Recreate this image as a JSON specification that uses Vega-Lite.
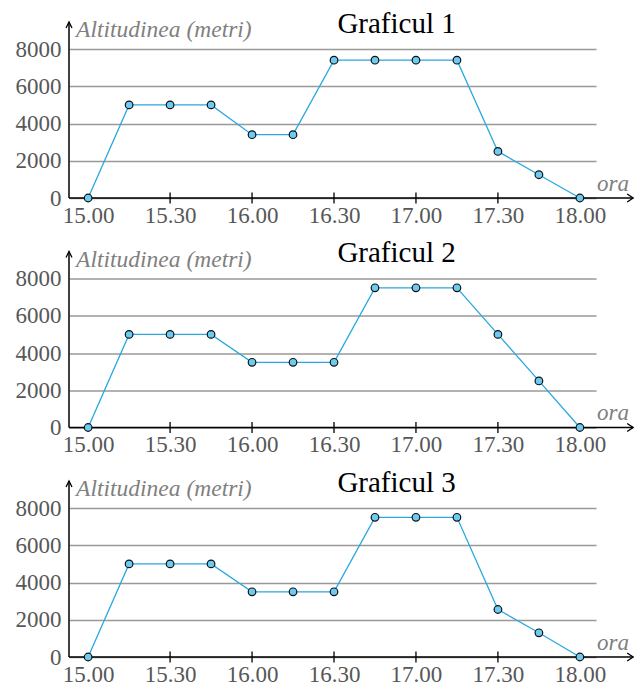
{
  "$schema": "https://vega.github.io/schema/vega-lite/v6.json",
  "background": "white",
  "padding": {"left": 15, "top": 9, "right": 0, "bottom": 0},
  "config": {"view": {"stroke": null}, "font": "Liberation Serif"},
  "data": {"values": [
    {"g": "Graficul 1", "min": 0, "alt": 0},
    {"g": "Graficul 1", "min": 15, "alt": 5000},
    {"g": "Graficul 1", "min": 30, "alt": 5000},
    {"g": "Graficul 1", "min": 45, "alt": 5000},
    {"g": "Graficul 1", "min": 60, "alt": 3400},
    {"g": "Graficul 1", "min": 75, "alt": 3400},
    {"g": "Graficul 1", "min": 90, "alt": 7400},
    {"g": "Graficul 1", "min": 105, "alt": 7400},
    {"g": "Graficul 1", "min": 120, "alt": 7400},
    {"g": "Graficul 1", "min": 135, "alt": 7400},
    {"g": "Graficul 1", "min": 150, "alt": 2500},
    {"g": "Graficul 1", "min": 165, "alt": 1250},
    {"g": "Graficul 1", "min": 180, "alt": 0},
    {"g": "Graficul 2", "min": 0, "alt": 0},
    {"g": "Graficul 2", "min": 15, "alt": 5000},
    {"g": "Graficul 2", "min": 30, "alt": 5000},
    {"g": "Graficul 2", "min": 45, "alt": 5000},
    {"g": "Graficul 2", "min": 60, "alt": 3500},
    {"g": "Graficul 2", "min": 75, "alt": 3500},
    {"g": "Graficul 2", "min": 90, "alt": 3500},
    {"g": "Graficul 2", "min": 105, "alt": 7500},
    {"g": "Graficul 2", "min": 120, "alt": 7500},
    {"g": "Graficul 2", "min": 135, "alt": 7500},
    {"g": "Graficul 2", "min": 150, "alt": 5000},
    {"g": "Graficul 2", "min": 165, "alt": 2500},
    {"g": "Graficul 2", "min": 180, "alt": 0},
    {"g": "Graficul 3", "min": 0, "alt": 0},
    {"g": "Graficul 3", "min": 15, "alt": 5000},
    {"g": "Graficul 3", "min": 30, "alt": 5000},
    {"g": "Graficul 3", "min": 45, "alt": 5000},
    {"g": "Graficul 3", "min": 60, "alt": 3500},
    {"g": "Graficul 3", "min": 75, "alt": 3500},
    {"g": "Graficul 3", "min": 90, "alt": 3500},
    {"g": "Graficul 3", "min": 105, "alt": 7500},
    {"g": "Graficul 3", "min": 120, "alt": 7500},
    {"g": "Graficul 3", "min": 135, "alt": 7500},
    {"g": "Graficul 3", "min": 150, "alt": 2550},
    {"g": "Graficul 3", "min": 165, "alt": 1300},
    {"g": "Graficul 3", "min": 180, "alt": 0}
  ]},
  "vconcat": [
    {
      "width": 527, "height": 149,
      "transform": [{"filter": "datum.g == 'Graficul 1'"}],
      "layer": [
        {"mark": {"type": "line", "color": "#29a8e0", "strokeWidth": 1.3},
         "encoding": {
           "x": {"field": "min", "type": "quantitative", "scale": {"domain": [-7, 185.9], "nice": false, "zero": false},
                 "axis": {"values": [0, 30, 60, 90, 120, 150, 180], "tickCount": 20, "labelExpr": "floor(15 + datum.value / 60) + '.' + (datum.value % 60 == 0 ? '00' : '30')", "domain": false, "ticks": false, "tickSize": 0, "grid": false, "labelFont": "Liberation Serif", "labelFontSize": 23, "labelColor": "#575757", "labelPadding": 6, "title": null, "labelFlush": false, "labelOverlap": false}},
           "y": {"field": "alt", "type": "quantitative", "scale": {"domain": [0, 8000], "nice": false},
                 "axis": {"values": [0, 2000, 4000, 6000, 8000], "tickCount": 10, "format": "d", "domain": false, "ticks": false, "tickSize": 0, "grid": true, "gridColor": "#999999", "gridWidth": 1.5, "labelFont": "Liberation Serif", "labelFontSize": 23, "labelColor": "#575757", "labelPadding": 8, "title": null, "labelOverlap": false}}
         }},
        {"mark": {"type": "rule", "color": "black", "strokeWidth": 1.3},
         "transform": [{"filter": "datum.min % 30 == 0 && datum.min > 0 && datum.min < 180"}],
         "encoding": {"x": {"field": "min", "type": "quantitative"}, "y": {"datum": -300}, "y2": {"datum": 300}}},
        {"mark": {"type": "rule", "color": "black", "strokeWidth": 1.5},
         "transform": [{"filter": "datum.min == 0"}],
         "encoding": {"x": {"datum": -7}, "x2": {"datum": 199.5}, "y": {"datum": 0}}},
        {"mark": {"type": "rule", "color": "black", "strokeWidth": 1.5},
         "transform": [{"filter": "datum.min == 0"}],
         "encoding": {"x": {"datum": -7}, "y": {"datum": 0}, "y2": {"datum": 9450}}},
        {"mark": {"type": "point", "shape": "M-1.5,-1L0,0L-1.5,1", "filled": false, "stroke": "black", "strokeWidth": 1.3, "size": 64, "opacity": 1},
         "transform": [{"filter": "datum.min == 0"}],
         "encoding": {"x": {"datum": 199.5}, "y": {"datum": 0}}},
        {"mark": {"type": "point", "shape": "M-1,2L0,0L1,2", "filled": false, "stroke": "black", "strokeWidth": 1.3, "size": 36, "opacity": 1},
         "transform": [{"filter": "datum.min == 0"}],
         "encoding": {"x": {"datum": -7}, "y": {"datum": 9450}}},
        {"mark": {"type": "point", "filled": true, "fill": "#6ccbf0", "stroke": "#111111", "strokeWidth": 1.2, "size": 58, "opacity": 1},
         "encoding": {"x": {"field": "min", "type": "quantitative"}, "y": {"field": "alt", "type": "quantitative"}}},
        {"mark": {"type": "text", "align": "left", "baseline": "alphabetic", "font": "Liberation Serif", "fontStyle": "italic", "fontSize": 23.5, "color": "#808080"},
         "transform": [{"filter": "datum.min == 0"}],
         "encoding": {"x": {"datum": -4.4}, "y": {"datum": 8620}, "text": {"value": "Altitudinea (metri)"}}},
        {"mark": {"type": "text", "align": "right", "baseline": "alphabetic", "font": "Liberation Serif", "fontStyle": "italic", "fontSize": 23, "color": "#808080"},
         "transform": [{"filter": "datum.min == 0"}],
         "encoding": {"x": {"datum": 198}, "y": {"datum": 390}, "text": {"value": "ora"}}},
        {"mark": {"type": "text", "align": "center", "baseline": "alphabetic", "font": "Liberation Serif", "fontSize": 29, "color": "black"},
         "transform": [{"filter": "datum.min == 0"}],
         "encoding": {"x": {"datum": 112.9}, "y": {"datum": 8860}, "text": {"field": "g"}}}
      ]
    },
    {
      "width": 527, "height": 149,
      "transform": [{"filter": "datum.g == 'Graficul 2'"}],
      "layer": [
        {"mark": {"type": "line", "color": "#29a8e0", "strokeWidth": 1.3},
         "encoding": {
           "x": {"field": "min", "type": "quantitative", "scale": {"domain": [-7, 185.9], "nice": false, "zero": false},
                 "axis": {"values": [0, 30, 60, 90, 120, 150, 180], "tickCount": 20, "labelExpr": "floor(15 + datum.value / 60) + '.' + (datum.value % 60 == 0 ? '00' : '30')", "domain": false, "ticks": false, "tickSize": 0, "grid": false, "labelFont": "Liberation Serif", "labelFontSize": 23, "labelColor": "#575757", "labelPadding": 6, "title": null, "labelFlush": false, "labelOverlap": false}},
           "y": {"field": "alt", "type": "quantitative", "scale": {"domain": [0, 8000], "nice": false},
                 "axis": {"values": [0, 2000, 4000, 6000, 8000], "tickCount": 10, "format": "d", "domain": false, "ticks": false, "tickSize": 0, "grid": true, "gridColor": "#999999", "gridWidth": 1.5, "labelFont": "Liberation Serif", "labelFontSize": 23, "labelColor": "#575757", "labelPadding": 8, "title": null, "labelOverlap": false}}
         }},
        {"mark": {"type": "rule", "color": "black", "strokeWidth": 1.3},
         "transform": [{"filter": "datum.min % 30 == 0 && datum.min > 0 && datum.min < 180"}],
         "encoding": {"x": {"field": "min", "type": "quantitative"}, "y": {"datum": -300}, "y2": {"datum": 300}}},
        {"mark": {"type": "rule", "color": "black", "strokeWidth": 1.5},
         "transform": [{"filter": "datum.min == 0"}],
         "encoding": {"x": {"datum": -7}, "x2": {"datum": 199.5}, "y": {"datum": 0}}},
        {"mark": {"type": "rule", "color": "black", "strokeWidth": 1.5},
         "transform": [{"filter": "datum.min == 0"}],
         "encoding": {"x": {"datum": -7}, "y": {"datum": 0}, "y2": {"datum": 9450}}},
        {"mark": {"type": "point", "shape": "M-1.5,-1L0,0L-1.5,1", "filled": false, "stroke": "black", "strokeWidth": 1.3, "size": 64, "opacity": 1},
         "transform": [{"filter": "datum.min == 0"}],
         "encoding": {"x": {"datum": 199.5}, "y": {"datum": 0}}},
        {"mark": {"type": "point", "shape": "M-1,2L0,0L1,2", "filled": false, "stroke": "black", "strokeWidth": 1.3, "size": 36, "opacity": 1},
         "transform": [{"filter": "datum.min == 0"}],
         "encoding": {"x": {"datum": -7}, "y": {"datum": 9450}}},
        {"mark": {"type": "point", "filled": true, "fill": "#6ccbf0", "stroke": "#111111", "strokeWidth": 1.2, "size": 58, "opacity": 1},
         "encoding": {"x": {"field": "min", "type": "quantitative"}, "y": {"field": "alt", "type": "quantitative"}}},
        {"mark": {"type": "text", "align": "left", "baseline": "alphabetic", "font": "Liberation Serif", "fontStyle": "italic", "fontSize": 23.5, "color": "#808080"},
         "transform": [{"filter": "datum.min == 0"}],
         "encoding": {"x": {"datum": -4.4}, "y": {"datum": 8620}, "text": {"value": "Altitudinea (metri)"}}},
        {"mark": {"type": "text", "align": "right", "baseline": "alphabetic", "font": "Liberation Serif", "fontStyle": "italic", "fontSize": 23, "color": "#808080"},
         "transform": [{"filter": "datum.min == 0"}],
         "encoding": {"x": {"datum": 198}, "y": {"datum": 390}, "text": {"value": "ora"}}},
        {"mark": {"type": "text", "align": "center", "baseline": "alphabetic", "font": "Liberation Serif", "fontSize": 29, "color": "black"},
         "transform": [{"filter": "datum.min == 0"}],
         "encoding": {"x": {"datum": 112.9}, "y": {"datum": 8860}, "text": {"field": "g"}}}
      ]
    },
    {
      "width": 527, "height": 149,
      "transform": [{"filter": "datum.g == 'Graficul 3'"}],
      "layer": [
        {"mark": {"type": "line", "color": "#29a8e0", "strokeWidth": 1.3},
         "encoding": {
           "x": {"field": "min", "type": "quantitative", "scale": {"domain": [-7, 185.9], "nice": false, "zero": false},
                 "axis": {"values": [0, 30, 60, 90, 120, 150, 180], "tickCount": 20, "labelExpr": "floor(15 + datum.value / 60) + '.' + (datum.value % 60 == 0 ? '00' : '30')", "domain": false, "ticks": false, "tickSize": 0, "grid": false, "labelFont": "Liberation Serif", "labelFontSize": 23, "labelColor": "#575757", "labelPadding": 6, "title": null, "labelFlush": false, "labelOverlap": false}},
           "y": {"field": "alt", "type": "quantitative", "scale": {"domain": [0, 8000], "nice": false},
                 "axis": {"values": [0, 2000, 4000, 6000, 8000], "tickCount": 10, "format": "d", "domain": false, "ticks": false, "tickSize": 0, "grid": true, "gridColor": "#999999", "gridWidth": 1.5, "labelFont": "Liberation Serif", "labelFontSize": 23, "labelColor": "#575757", "labelPadding": 8, "title": null, "labelOverlap": false}}
         }},
        {"mark": {"type": "rule", "color": "black", "strokeWidth": 1.3},
         "transform": [{"filter": "datum.min % 30 == 0 && datum.min > 0 && datum.min < 180"}],
         "encoding": {"x": {"field": "min", "type": "quantitative"}, "y": {"datum": -300}, "y2": {"datum": 300}}},
        {"mark": {"type": "rule", "color": "black", "strokeWidth": 1.5},
         "transform": [{"filter": "datum.min == 0"}],
         "encoding": {"x": {"datum": -7}, "x2": {"datum": 199.5}, "y": {"datum": 0}}},
        {"mark": {"type": "rule", "color": "black", "strokeWidth": 1.5},
         "transform": [{"filter": "datum.min == 0"}],
         "encoding": {"x": {"datum": -7}, "y": {"datum": 0}, "y2": {"datum": 9450}}},
        {"mark": {"type": "point", "shape": "M-1.5,-1L0,0L-1.5,1", "filled": false, "stroke": "black", "strokeWidth": 1.3, "size": 64, "opacity": 1},
         "transform": [{"filter": "datum.min == 0"}],
         "encoding": {"x": {"datum": 199.5}, "y": {"datum": 0}}},
        {"mark": {"type": "point", "shape": "M-1,2L0,0L1,2", "filled": false, "stroke": "black", "strokeWidth": 1.3, "size": 36, "opacity": 1},
         "transform": [{"filter": "datum.min == 0"}],
         "encoding": {"x": {"datum": -7}, "y": {"datum": 9450}}},
        {"mark": {"type": "point", "filled": true, "fill": "#6ccbf0", "stroke": "#111111", "strokeWidth": 1.2, "size": 58, "opacity": 1},
         "encoding": {"x": {"field": "min", "type": "quantitative"}, "y": {"field": "alt", "type": "quantitative"}}},
        {"mark": {"type": "text", "align": "left", "baseline": "alphabetic", "font": "Liberation Serif", "fontStyle": "italic", "fontSize": 23.5, "color": "#808080"},
         "transform": [{"filter": "datum.min == 0"}],
         "encoding": {"x": {"datum": -4.4}, "y": {"datum": 8620}, "text": {"value": "Altitudinea (metri)"}}},
        {"mark": {"type": "text", "align": "right", "baseline": "alphabetic", "font": "Liberation Serif", "fontStyle": "italic", "fontSize": 23, "color": "#808080"},
         "transform": [{"filter": "datum.min == 0"}],
         "encoding": {"x": {"datum": 198}, "y": {"datum": 390}, "text": {"value": "ora"}}},
        {"mark": {"type": "text", "align": "center", "baseline": "alphabetic", "font": "Liberation Serif", "fontSize": 29, "color": "black"},
         "transform": [{"filter": "datum.min == 0"}],
         "encoding": {"x": {"datum": 112.9}, "y": {"datum": 8860}, "text": {"field": "g"}}}
      ]
    }
  ],
  "spacing": 80.5,
  "bounds": "flush"
}
